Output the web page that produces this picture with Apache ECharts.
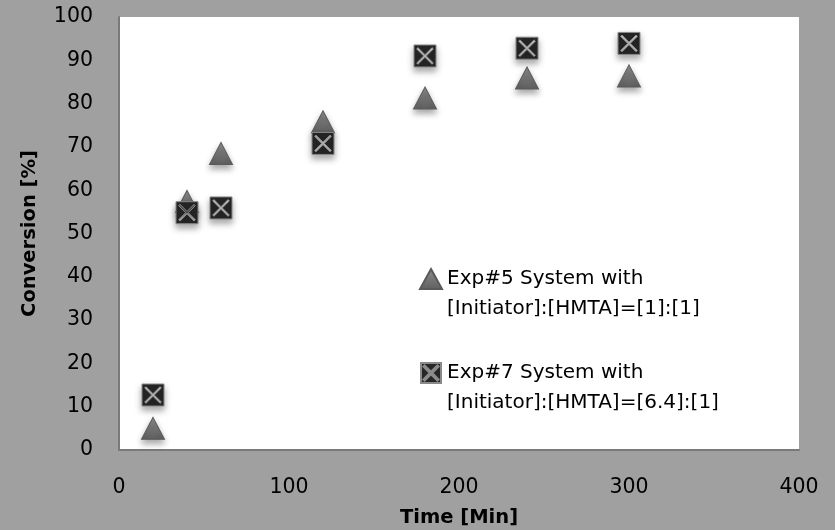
<!DOCTYPE html>
<html>
<head>
<meta charset="utf-8">
<script src="https://cdn.jsdelivr.net/npm/echarts@6/dist/echarts.min.js"></script>
<style>html,body{margin:0;padding:0;background:#a0a0a0;}#c{width:835px;height:530px;}</style>
</head>
<body>
<div id="c"></div>
<script>
var timeExp5 = [20, 40, 60, 120, 180, 240, 300];
var convExp5 = [5.0, 57.4, 68.5, 75.8, 81.3, 85.9, 86.4];
var timeExp7 = [20, 40, 60, 120, 180, 240, 300];
var convExp7 = [12.7, 54.8, 55.9, 70.8, 91.0, 92.8, 93.9];
var xTicks = [0, 100, 200, 300, 400];
var yTicks = [0, 10, 20, 30, 40, 50, 60, 70, 80, 90, 100];
var seriesNames = ['Exp#5 System with\n[Initiator]:[HMTA]=[1]:[1]', 'Exp#7 System with\n[Initiator]:[HMTA]=[6.4]:[1]'];

function pairs(xs, ys) { return xs.map(function (x, i) { return [x, ys[i]]; }); }

var boxX = 'path://M0 0 L100 0 L100 100 L0 100 Z M12 18 L44 50 L12 82 L18 88 L50 56 L82 88 L88 82 L56 50 L88 18 L82 12 L50 44 L18 12 Z';
var FONT = '"DejaVu Sans", sans-serif';

var chart = echarts.init(document.getElementById('c'));
chart.setOption({
  backgroundColor: '#a0a0a0',
  animation: false,
  grid: { left: 119, right: 36, top: 17, bottom: 80, show: true, backgroundColor: '#ffffff', borderWidth: 0, containLabel: false, outerBoundsMode: 'none' },
  xAxis: {
    type: 'value', min: xTicks[0], max: xTicks[xTicks.length - 1], interval: 100,
    name: 'Time [Min]', nameLocation: 'middle', nameGap: 58,
    nameTextStyle: { fontFamily: FONT, fontSize: 19.5, fontWeight: 'bold', color: '#000' },
    axisLine: { show: true, lineStyle: { color: '#7a7a7a', width: 2 } },
    axisTick: { show: false }, splitLine: { show: false },
    axisLabel: { fontFamily: FONT, fontSize: 20.5, color: '#000', margin: 27 }
  },
  yAxis: {
    type: 'value', min: yTicks[0], max: yTicks[yTicks.length - 1], interval: 10,
    name: 'Conversion [%]', nameLocation: 'middle', nameGap: 79, nameRotate: 90,
    nameTextStyle: { fontFamily: FONT, fontSize: 19.5, fontWeight: 'bold', color: '#000' },
    axisLine: { show: true, lineStyle: { color: '#7a7a7a', width: 2 } },
    axisTick: { show: false }, splitLine: { show: false },
    axisLabel: { fontFamily: FONT, fontSize: 20.5, color: '#000', margin: 26 }
  },
  legend: {
    orient: 'vertical', left: 419, top: 234, padding: 0, itemGap: 4,
    itemWidth: 22, itemHeight: 20,
    formatter: function (n) { return '\n' + n; },
    textStyle: { fontFamily: FONT, fontSize: 20, color: '#000', lineHeight: 30 },
    data: seriesNames
  },
  series: [
    {
      name: seriesNames[0], type: 'scatter', symbol: 'triangle', symbolSize: [23, 22],
      data: pairs(timeExp5, convExp5), z: 2,
      itemStyle: {
        color: new echarts.graphic.LinearGradient(0, 0, 0, 1, [{ offset: 0, color: '#8c8c8c' }, { offset: 1, color: '#5f5f5f' }]),
        borderColor: '#5a5a5a', borderWidth: 1, opacity: 1,
        shadowBlur: 6, shadowOffsetY: 4, shadowColor: 'rgba(0,0,0,0.35)'
      }
    },
    {
      name: seriesNames[1], type: 'scatter', symbol: boxX, symbolSize: 22,
      data: pairs(timeExp7, convExp7), z: 3,
      itemStyle: {
        color: '#262626', borderColor: '#8a8a8a', borderWidth: 1, opacity: 1,
        shadowBlur: 6, shadowOffsetY: 4, shadowColor: 'rgba(0,0,0,0.35)'
      }
    }
  ]
});
</script>
</body>
</html>
